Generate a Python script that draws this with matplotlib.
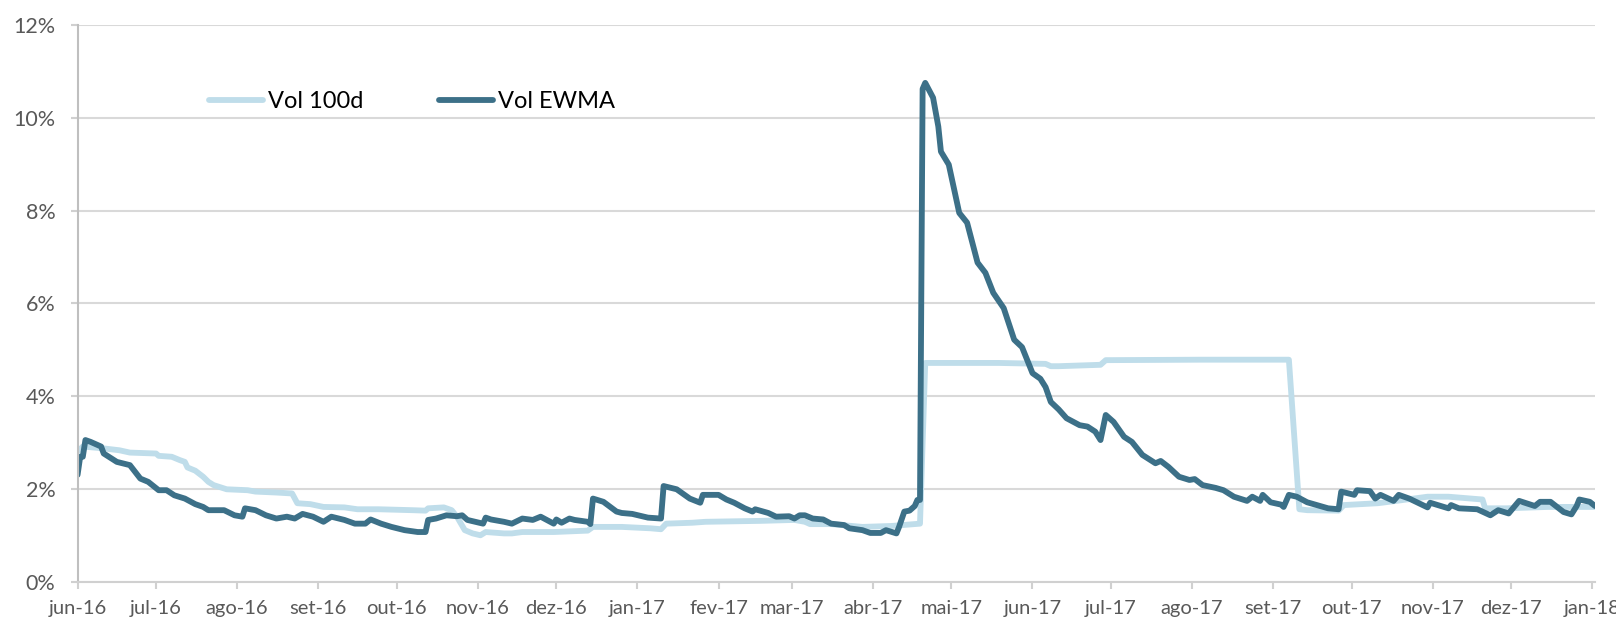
import pandas as pd
import matplotlib
matplotlib.use('Agg')
import matplotlib.pyplot as plt
from matplotlib.ticker import PercentFormatter

# datas: dias corridos a partir de 01/06/2016, volatilidade em %
inicio = pd.Timestamp('2016-06-01')
meses = ['jan', 'fev', 'mar', 'abr', 'mai', 'jun', 'jul', 'ago', 'set', 'out', 'nov', 'dez']

dias_100d = [0, 2, 10, 16, 20, 30, 31, 36, 39, 41, 42, 45, 48, 50, 52, 57, 65, 68, 76, 82,
             84, 89, 94, 102, 107, 115, 128, 133, 134, 140, 143, 145, 148, 151, 154, 156,
             163, 166, 170, 182, 195, 197, 208, 219, 223, 225, 235, 240, 261, 274, 278,
             280, 288, 300, 311, 322, 324, 352, 370, 372, 375, 391, 393, 429, 463, 467,
             470, 482, 484, 497, 504, 516, 524, 537, 538, 546, 562, 580]
vol_100d = [2.81, 2.92, 2.88, 2.84, 2.79, 2.77, 2.72, 2.70, 2.63, 2.59, 2.47, 2.40, 2.27,
            2.16, 2.09, 2.00, 1.98, 1.95, 1.93, 1.91, 1.70, 1.68, 1.62, 1.61, 1.57, 1.57,
            1.55, 1.54, 1.59, 1.61, 1.55, 1.41, 1.12, 1.05, 1.01, 1.08, 1.05, 1.05, 1.08,
            1.08, 1.11, 1.19, 1.19, 1.16, 1.14, 1.26, 1.28, 1.30, 1.32, 1.34, 1.30, 1.25,
            1.25, 1.19, 1.21, 1.26, 4.72, 4.72, 4.70, 4.65, 4.65, 4.68, 4.78, 4.79, 4.79,
            1.57, 1.55, 1.54, 1.66, 1.70, 1.75, 1.84, 1.84, 1.78, 1.59, 1.59, 1.62, 1.62]

dias_ewma = [0, 1, 2, 3, 5, 9, 10, 15, 20, 24, 27, 31, 34, 37, 41, 45, 48, 50, 56, 60, 63,
             64, 68, 72, 76, 80, 83, 86, 90, 94, 97, 102, 106, 110, 112, 116, 120, 125,
             130, 133, 134, 137, 141, 145, 147, 149, 155, 156, 158, 163, 166, 170, 174,
             177, 182, 183, 185, 188, 190, 195, 196, 197, 201, 206, 208, 212, 218, 223,
             224, 229, 234, 238, 239, 245, 248, 251, 255, 258, 259, 264, 267, 272, 274,
             276, 278, 281, 285, 288, 293, 295, 300, 303, 307, 309, 313, 314, 316, 318,
             320, 321, 322, 323, 324, 327, 329, 330, 333, 337, 340, 344, 347, 350, 354,
             358, 361, 365, 368, 370, 372, 375, 378, 383, 386, 389, 391, 393, 396, 400,
             403, 407, 412, 414, 417, 421, 425, 427, 430, 435, 438, 442, 447, 449, 452,
             453, 456, 460, 461, 463, 466, 470, 475, 478, 482, 483, 488, 489, 494, 496,
             498, 503, 505, 509, 516, 517, 524, 525, 528, 535, 540, 543, 547, 551, 557,
             559, 563, 568, 571, 573, 574, 578, 580]
vol_ewma = [2.31, 2.70, 2.70, 3.06, 3.02, 2.92, 2.77, 2.59, 2.52, 2.23, 2.16, 1.98, 1.98,
            1.87, 1.80, 1.68, 1.62, 1.55, 1.55, 1.44, 1.41, 1.59, 1.55, 1.44, 1.37, 1.41,
            1.37, 1.47, 1.41, 1.30, 1.41, 1.34, 1.26, 1.26, 1.35, 1.26, 1.19, 1.12, 1.08,
            1.08, 1.34, 1.37, 1.44, 1.42, 1.44, 1.34, 1.26, 1.39, 1.35, 1.30, 1.26, 1.37,
            1.34, 1.41, 1.26, 1.35, 1.28, 1.37, 1.34, 1.30, 1.25, 1.80, 1.73, 1.52, 1.49,
            1.47, 1.39, 1.37, 2.07, 2.00, 1.80, 1.71, 1.88, 1.88, 1.78, 1.71, 1.59, 1.52,
            1.57, 1.49, 1.41, 1.42, 1.37, 1.44, 1.44, 1.37, 1.35, 1.26, 1.23, 1.16, 1.12,
            1.06, 1.06, 1.12, 1.05, 1.19, 1.52, 1.54, 1.64, 1.77, 1.77, 10.62, 10.75,
            10.43, 9.81, 9.27, 8.99, 7.95, 7.74, 6.88, 6.66, 6.23, 5.90, 5.22, 5.06, 4.50,
            4.38, 4.20, 3.88, 3.72, 3.53, 3.38, 3.35, 3.24, 3.06, 3.60, 3.45, 3.13, 3.02,
            2.74, 2.56, 2.61, 2.48, 2.27, 2.20, 2.22, 2.09, 2.03, 1.98, 1.84, 1.75, 1.84,
            1.75, 1.88, 1.72, 1.67, 1.62, 1.88, 1.84, 1.72, 1.64, 1.59, 1.57, 1.95, 1.88,
            1.98, 1.96, 1.80, 1.88, 1.75, 1.88, 1.80, 1.61, 1.71, 1.59, 1.66, 1.59, 1.57,
            1.44, 1.55, 1.48, 1.75, 1.64, 1.73, 1.73, 1.51, 1.46, 1.64, 1.78, 1.73, 1.64]

datas_100d = inicio + pd.to_timedelta(dias_100d, unit='D')
datas_ewma = inicio + pd.to_timedelta(dias_ewma, unit='D')

plt.rcParams['font.family'] = ['Lato', 'DejaVu Sans']

fig, ax = plt.subplots(figsize=(16.16, 6.2), dpi=100)
fig.subplots_adjust(left=0.048, right=0.987, top=0.96, bottom=0.061)

ax.plot(datas_100d, vol_100d, color='#BFDDEA', lw=4.2, label='Vol 100d',
        solid_joinstyle='round', solid_capstyle='round')
ax.plot(datas_ewma, vol_ewma, color='#3C7088', lw=4.2, label='Vol EWMA',
        solid_joinstyle='round', solid_capstyle='round')

ax.set_ylim(0, 12)
ax.set_yticks(range(0, 13, 2))
ax.yaxis.set_major_formatter(PercentFormatter(100, decimals=0))

ticks = pd.date_range('2016-06-01', '2018-01-01', freq='MS')
ax.set_xticks(ticks)
ax.set_xticklabels([f"{meses[d.month - 1]}-{d.strftime('%y')}" for d in ticks])
ax.set_xlim(inicio, inicio + pd.Timedelta(days=580))

ax.yaxis.grid(True, color='#D9D9D9', lw=1.5)
ax.set_axisbelow(True)
for s in ['top', 'right']:
    ax.spines[s].set_visible(False)
ax.spines['left'].set_color('#BFBFBF')
ax.spines['left'].set_linewidth(1.5)
ax.spines['bottom'].set_color('#D0D0D0')
ax.spines['bottom'].set_linewidth(1.5)

ax.tick_params(axis='y', length=5, width=1.5, color='#D0D0D0', pad=11,
               labelsize=15.5, labelcolor='#595959')
ax.tick_params(axis='x', length=5, width=1.5, color='#D0D0D0', pad=8,
               labelsize=14.5, labelcolor='#595959')

ax.legend(ncol=2, frameon=False, loc='center left', fontsize=17,
          bbox_to_anchor=(0.1293, 0.836), bbox_transform=fig.transFigure,
          borderaxespad=0, borderpad=0, handlelength=2.3, handletextpad=0.2,
          columnspacing=3.2)

fig.savefig('out.png', dpi=100)
